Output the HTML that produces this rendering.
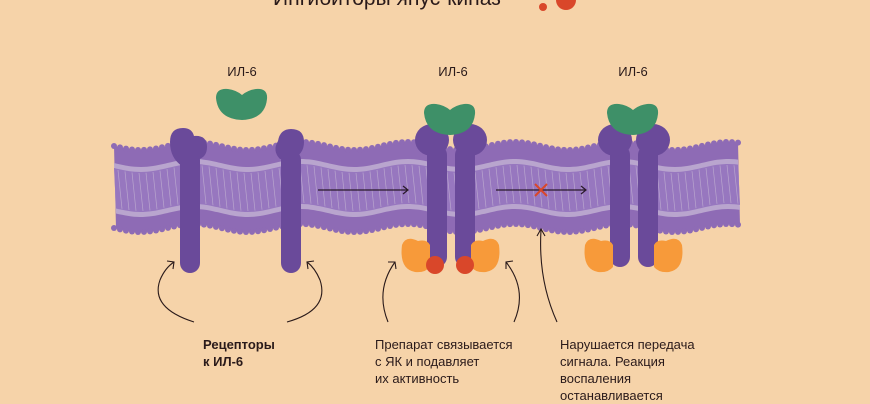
<!DOCTYPE html>
<html><head><meta charset="utf-8"><style>
body{margin:0;background:#F6D3A9;width:870px;height:400px;overflow:hidden;position:relative;font-family:"Liberation Sans","DejaVu Sans",sans-serif;color:#2a1a1a}
.t{position:absolute;font-size:13px;line-height:17px}
</style></head><body>
<div class="t" style="left:273px;top:-13px;font-size:21px;line-height:24px">Ингибиторы янус-киназ</div>
<svg width="870" height="400" style="position:absolute;left:0;top:0" id="s">
<g id="mem"></g>
<line x1="318" y1="190" x2="407" y2="190" stroke="#2a1a2a" stroke-width="1.2"/>
<path d="M403 186 L408 190 L403 194" fill="none" stroke="#2a1a2a" stroke-width="1.2"/>
<line x1="496" y1="190" x2="585" y2="190" stroke="#2a1a2a" stroke-width="1.2"/>
<path d="M581 186 L586 190 L581 194" fill="none" stroke="#2a1a2a" stroke-width="1.2"/>
<path d="M535 184 L547 196 M547 184 L535 196" stroke="#D9472A" stroke-width="2"/>
<g fill="#6A4A9A">
<rect x="180" y="150" width="20" height="123" rx="10"/>
<path d="M170 142 q0 -14 13 -14 q9 0 11 8 q13 -1 13 11 q0 11 -11 13 l-14 6 q-12 -8 -12 -24z"/>
<rect x="281" y="150" width="20" height="123" rx="10"/>
<path d="M278 141 q2 -12 13 -12 q13 0 13 13 q0 13 -13 17 l-11 0 q-8 -8 -2 -18z"/>
<rect x="427" y="145" width="20" height="122" rx="10"/>
<rect x="455" y="145" width="20" height="122" rx="10"/>
<ellipse cx="432" cy="140" rx="17" ry="16"/><ellipse cx="470" cy="140" rx="17" ry="16"/>
<rect x="610" y="145" width="20" height="122" rx="10"/>
<rect x="638" y="145" width="20" height="122" rx="10"/>
<ellipse cx="615" cy="140" rx="17" ry="16"/><ellipse cx="653" cy="140" rx="17" ry="16"/>
</g>
<g fill="#3E9068">
<path d="M216 98 q0 -10 12 -9 q8 1 14 6 q6 -5 14 -6 q12 -1 11 10 q-2 20 -25 21 q-24 -1 -26 -22z"/>
<path d="M424 113 q0 -10 12 -9 q8 1 14 6 q6 -5 14 -6 q12 -1 11 10 q-2 20 -25 21 q-24 -1 -26 -22z"/>
<path d="M607 113 q0 -10 12 -9 q8 1 14 6 q6 -5 14 -6 q12 -1 11 10 q-2 20 -25 21 q-24 -1 -26 -22z"/>
</g>
<g fill="#F79A3A">
<path d="M402 245 q4 -10 16 -4 q9 -2 12 4 l0 22 q-5 6 -15 5 q-16 -3 -13 -27z"/>
<path d="M499 245 q-4 -10 -16 -4 q-9 -2 -12 4 l0 22 q5 6 15 5 q16 -3 13 -27z"/>
<path d="M585 245 q4 -10 16 -4 q9 -2 12 4 l0 22 q-5 6 -15 5 q-16 -3 -13 -27z"/>
<path d="M682 245 q-4 -10 -16 -4 q-9 -2 -12 4 l0 22 q5 6 15 5 q16 -3 13 -27z"/>
</g>
<circle cx="435" cy="265" r="9" fill="#D9472A"/><circle cx="465" cy="265" r="9" fill="#D9472A"/>
<circle cx="543" cy="7" r="4" fill="#D9472A"/><circle cx="566" cy="0" r="10" fill="#D9472A"/>
<g fill="none" stroke="#2a1a1a" stroke-width="1.1">
<path d="M194 322 Q150 308 160 280 Q165 268 174 262"/><path d="M167 261 L174 262 L173 269"/>
<path d="M287 322 Q330 310 320 280 Q315 268 307 262"/><path d="M314 261 L307 262 L308 269"/>
<path d="M388 322 Q375 290 395 262"/><path d="M388 262 L395 262 L396 269"/>
<path d="M514 322 Q528 290 506 262"/><path d="M513 261 L506 262 L506 269"/>
<path d="M557 322 Q538 280 541 230"/><path d="M537 236 L541 229 L545 236"/>
</g>
<g font-size="13" fill="#2a1a1a" text-anchor="middle" font-family="Liberation Sans,sans-serif">
<text x="242" y="76">ИЛ-6</text><text x="453" y="76">ИЛ-6</text><text x="633" y="76">ИЛ-6</text>
</g>
</svg>
<div class="t" style="left:203px;top:336px;font-weight:bold">Рецепторы<br>к ИЛ-6</div>
<div class="t" style="left:375px;top:336px">Препарат связывается<br>с ЯК и подавляет<br>их активность</div>
<div class="t" style="left:560px;top:336px">Нарушается передача<br>сигнала. Реакция<br>воспаления<br>останавливается</div>
<script>
(function(){
var g=document.getElementById('mem'),ns='http://www.w3.org/2000/svg';
function w(x,base,a){return base+a*Math.sin((x-114)/17);}
function band(y1,y2,a,fill){var d='M114 '+w(114,y1,a);for(var x=114;x<=740;x+=3)d+=' L'+x+' '+w(x,y1,a).toFixed(1);
for(var x=740;x>=114;x-=3)d+=' L'+x+' '+w(x,y2,a).toFixed(1);d+='Z';var p=document.createElementNS(ns,'path');p.setAttribute('d',d);p.setAttribute('fill',fill);g.appendChild(p);}
band(146,228,4,'#8E6BB5');
for(var x=114;x<=740;x+=6){[w(x,146,4),w(x,228,4)].forEach(function(y){var c=document.createElementNS(ns,'circle');c.setAttribute('cx',x);c.setAttribute('cy',y);c.setAttribute('r',3);c.setAttribute('fill','#8E6BB5');g.appendChild(c);});}
band(163,213,4,'#B9A5CE');
band(168,208,4,'#9777BF');
for(var x=118;x<740;x+=7){var l=document.createElementNS(ns,'line');l.setAttribute('x1',x);l.setAttribute('y1',w(x,169,4));l.setAttribute('x2',x+4);l.setAttribute('y2',w(x+4,207,4));l.setAttribute('stroke','#B9A5CE');l.setAttribute('stroke-width','0.7');g.appendChild(l);}
})();
</script>
</body></html>
